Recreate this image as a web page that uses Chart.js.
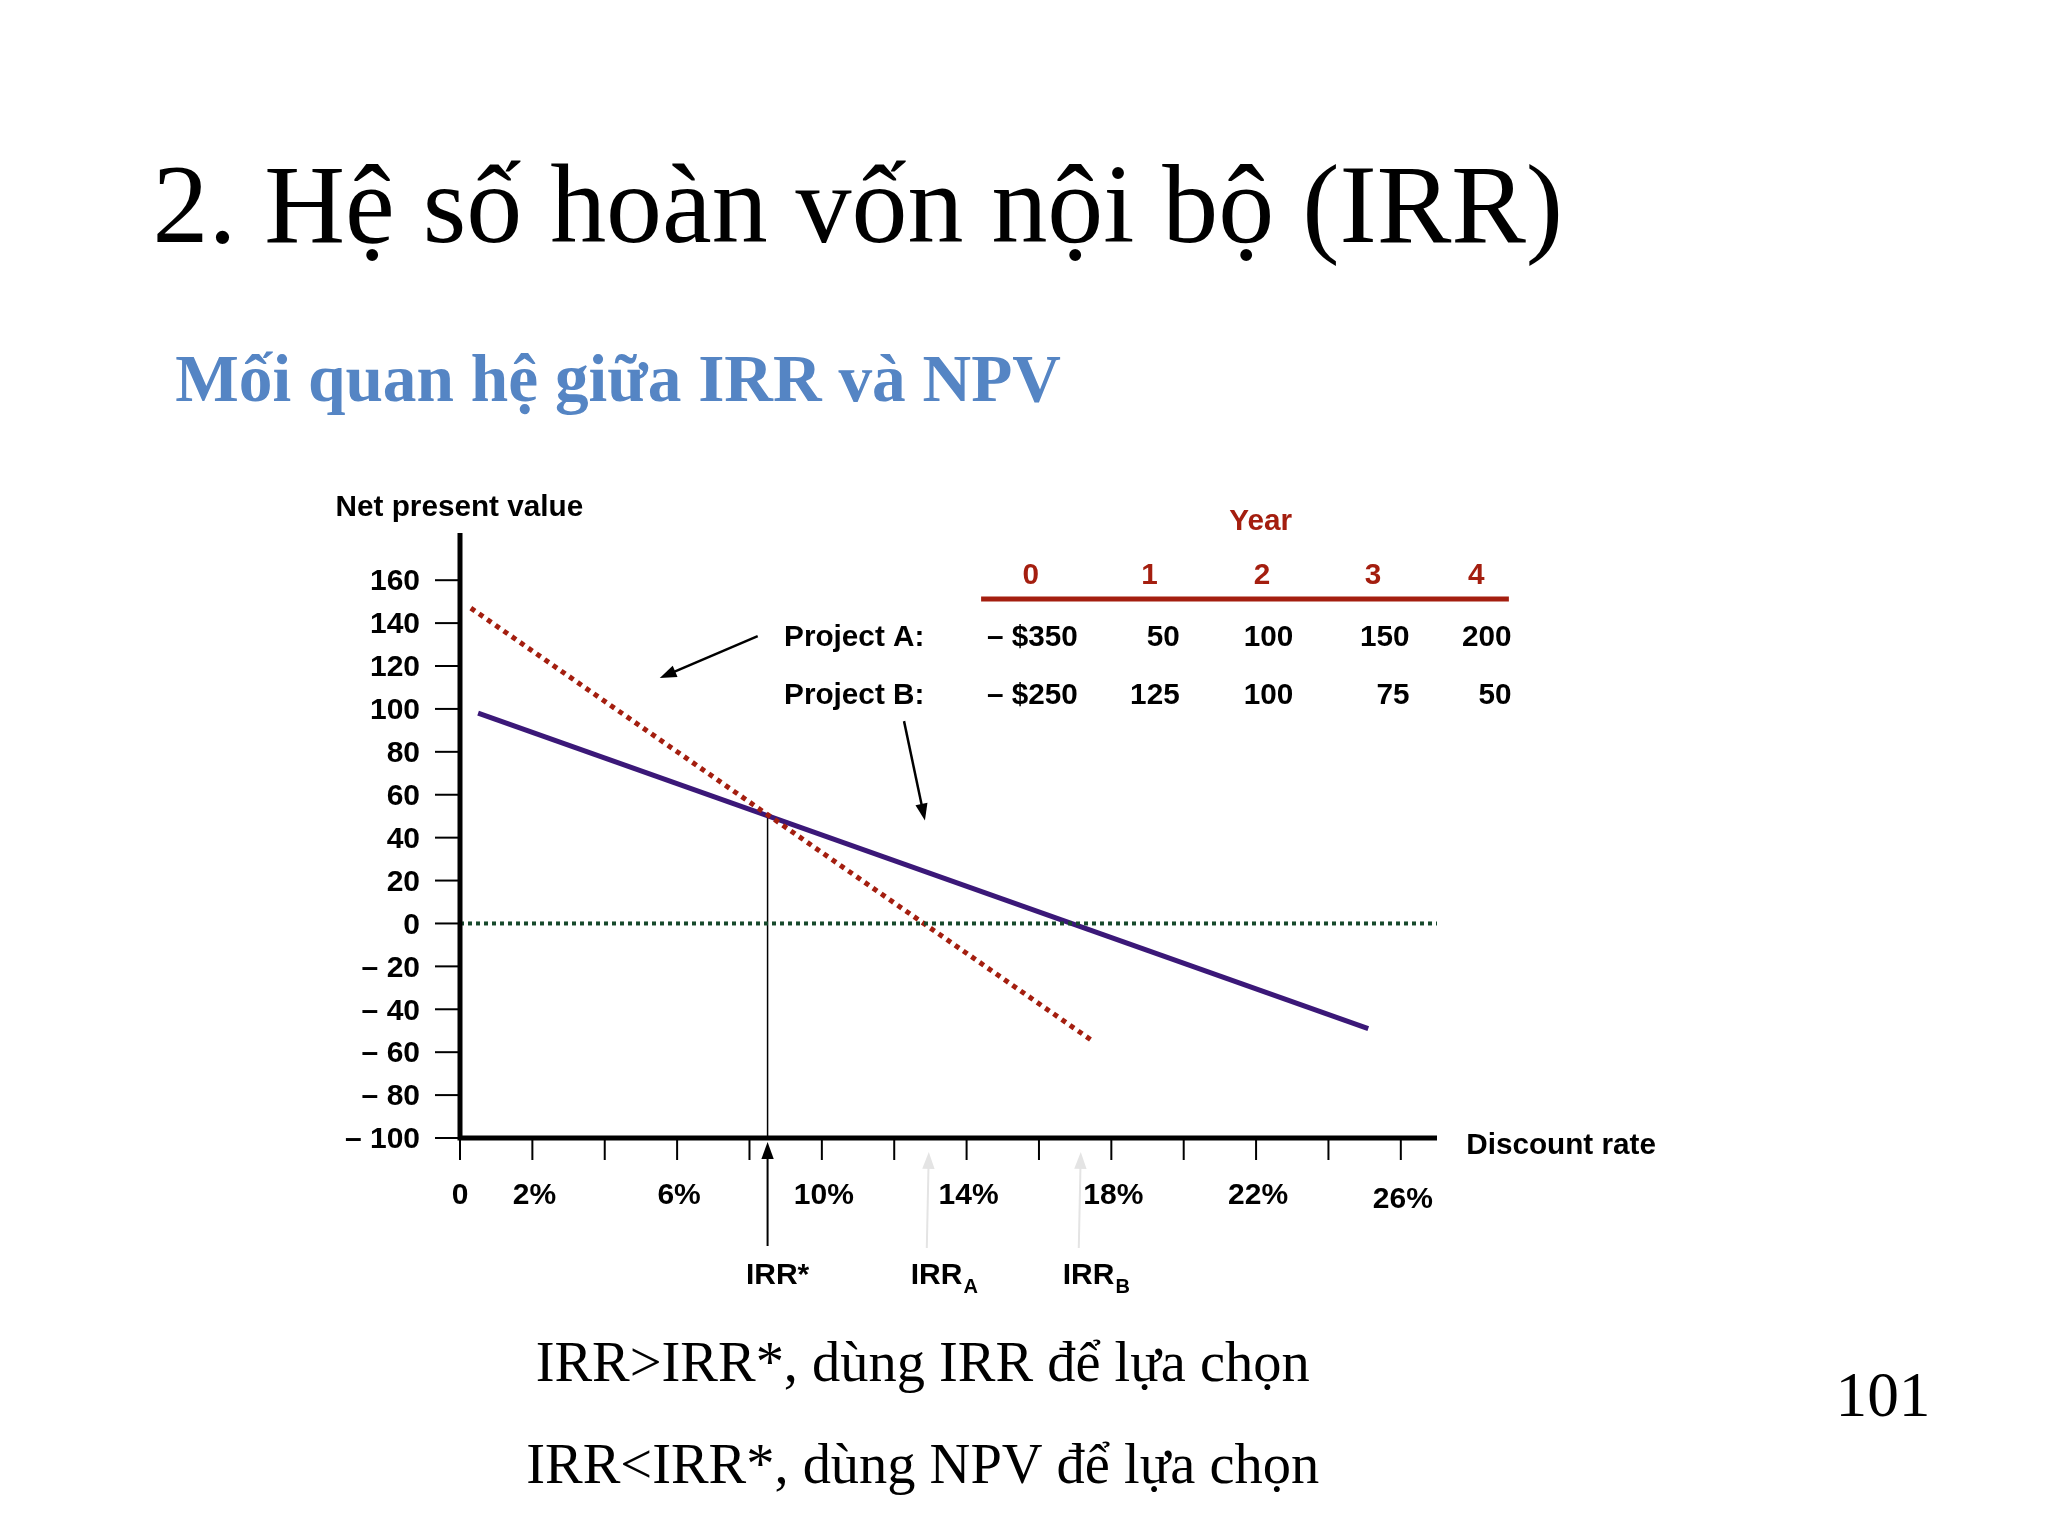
<!DOCTYPE html>
<html>
<head>
<meta charset="utf-8">
<script src="https://cdn.jsdelivr.net/npm/chart.js@4"></script>
<style>
  html, body { margin: 0; padding: 0; background: #fff; }
  canvas { display: block; }
</style>
</head>
<body>
<canvas id="c" width="2048" height="1536"></canvas>
<script>
// discount rate (%) -> NPV
const projectA = [{ x: 0.3, y: 147 }, { x: 17.5, y: -55 }];
const projectB = [{ x: 0.5, y: 98 }, { x: 25.1, y: -49 }];
const zeroLine = [{ x: 0, y: 0 }, { x: 27, y: 0 }];
const yTicks = [160, 140, 120, 100, 80, 60, 40, 20, 0, -20, -40, -60, -80, -100];
const xTickMarks = [0, 2, 4, 6, 8, 10, 12, 14, 16, 18, 20, 22, 24, 26];
const xTickLabels = [[0, '0'], [2, '2%'], [6, '6%'], [10, '10%'], [14, '14%'], [18, '18%'], [22, '22%'], [26, '26%']];
const years = ['0', '1', '2', '3', '4'];
const cashA = ['– $350', '50', '100', '150', '200'];
const cashB = ['– $250', '125', '100', '75', '50'];
const irrStar = { x: 8.5, y: 51 };
const irrA = 12.9;
const irrB = 17.1;

const RED = '#a41e0f';
const S = 2048 / 1552;
const K = 0.99;
const sans = 'bold 30px "Liberation Sans", Arial, sans-serif';

function arrow(ctx, x1, y1, x2, y2, color, w) {
    const a = Math.atan2(y2 - y1, x2 - x1), h = 18;
    ctx.strokeStyle = color; ctx.fillStyle = color; ctx.lineWidth = w;
    ctx.beginPath(); ctx.moveTo(x1, y1); ctx.lineTo(x2 - Math.cos(a) * h * 0.8, y2 - Math.sin(a) * h * 0.8); ctx.stroke();
    ctx.beginPath();
    ctx.moveTo(x2, y2);
    ctx.lineTo(x2 - h * Math.cos(a - 0.35), y2 - h * Math.sin(a - 0.35));
    ctx.lineTo(x2 - h * Math.cos(a + 0.35), y2 - h * Math.sin(a + 0.35));
    ctx.closePath(); ctx.fill();
}

const decorations = {
    id: 'decorations',
    beforeDatasetsDraw(chart) {
        const { ctx, scales: { x, y } } = chart;
        ctx.save();
        // IRR* vertical line
        ctx.strokeStyle = '#000'; ctx.lineWidth = 1.5;
        ctx.beginPath();
        ctx.moveTo(x.getPixelForValue(irrStar.x), y.getPixelForValue(irrStar.y));
        ctx.lineTo(x.getPixelForValue(irrStar.x), y.getPixelForValue(-100));
        ctx.stroke();
        ctx.restore();
    },
    afterDraw(chart) {
        const { ctx, scales: { x, y } } = chart;
        const x0 = x.getPixelForValue(0), y0 = y.getPixelForValue(-100);
        ctx.save();
        // axes
        ctx.strokeStyle = '#000'; ctx.lineWidth = 5;
        ctx.beginPath(); ctx.moveTo(x0, chart.chartArea.top); ctx.lineTo(x0, y0); ctx.lineTo(x.getPixelForValue(27), y0); ctx.stroke();
        ctx.lineWidth = 2;
        ctx.font = sans; ctx.fillStyle = '#000';
        ctx.textAlign = 'right'; ctx.textBaseline = 'middle';
        yTicks.forEach(v => {
            const py = y.getPixelForValue(v);
            ctx.beginPath(); ctx.moveTo(x0 - 25, py); ctx.lineTo(x0, py); ctx.stroke();
            ctx.fillText(v < 0 ? '– ' + (-v) : String(v), x0 - 40, py + 2);
        });
        xTickMarks.forEach(v => {
            const px = x.getPixelForValue(v);
            ctx.beginPath(); ctx.moveTo(px, y0); ctx.lineTo(px, y0 + 22); ctx.stroke();
        });
        ctx.textAlign = 'center'; ctx.textBaseline = 'alphabetic';
        xTickLabels.forEach(([v, t]) => {
            ctx.fillText(t, x.getPixelForValue(v) + (v === 0 ? 0 : 2), y0 + (v === 26 ? 70 : 66));
        });

        // IRR markers below the axis
        const ps = x.getPixelForValue(irrStar.x);
        arrow(ctx, ps, y0 + 108, ps, y0 + 4, '#000', 2);
        arrow(ctx, x.getPixelForValue(irrA), y0 + 110, x.getPixelForValue(irrA) + 2, y0 + 14, '#e4e4e4', 2);
        arrow(ctx, x.getPixelForValue(irrB), y0 + 110, x.getPixelForValue(irrB) + 2, y0 + 14, '#e4e4e4', 2);
        ctx.fillStyle = '#000'; ctx.font = sans;
        ctx.textAlign = 'center';
        ctx.fillText('IRR*', ps + 10, y0 + 146);
        ctx.textAlign = 'left';
        const ia = x.getPixelForValue(irrA) - 16, ib = x.getPixelForValue(irrB) - 16;
        ctx.fillText('IRR', ia, y0 + 146); ctx.fillText('IRR', ib, y0 + 146);
        const w = ctx.measureText('IRR').width;
        ctx.font = 'bold 20px "Liberation Sans", Arial, sans-serif';
        ctx.fillText('A', ia + w + 1, y0 + 155); ctx.fillText('B', ib + w + 1, y0 + 155);

        // everything not tied to the axes
        ctx.scale(K, K);
        ctx.font = sans; ctx.textAlign = 'left';
        ctx.fillText('Net present value', 339, 521);
        ctx.fillText('Discount rate', 1481, 1166);

        // cash-flow table
        ctx.fillStyle = RED; ctx.textAlign = 'center';
        ctx.fillText('Year', 965 * S, 535);
        const colC = [789, 880, 966, 1051, 1130].map(v => v * S);
        const colR = [825, 903, 990, 1079, 1157].map(v => v * S);
        years.forEach((t, i) => ctx.fillText(t, colC[i], 590));
        ctx.strokeStyle = RED; ctx.lineWidth = 5;
        ctx.beginPath(); ctx.moveTo(751 * S, 605); ctx.lineTo(1155 * S, 605); ctx.stroke();
        ctx.fillStyle = '#000';
        ctx.textAlign = 'left';
        ctx.fillText('Project A:', 792, 653); ctx.fillText('Project B:', 792, 711);
        ctx.textAlign = 'right';
        cashA.forEach((t, i) => ctx.fillText(t, colR[i], 653));
        cashB.forEach((t, i) => ctx.fillText(t, colR[i], 711));
        arrow(ctx, 580 * S, 487 * S, 505 * S, 519 * S, '#000', 2.5);
        arrow(ctx, 692 * S, 552 * S, 708 * S, 628 * S, '#000', 2.5);

        // slide text
        ctx.textAlign = 'left'; ctx.fillStyle = '#000';
        ctx.font = '113px "Liberation Serif", "Times New Roman", serif';
        ctx.fillText('2. Hệ số hoàn vốn nội bộ (IRR)', 154, 244);
        ctx.font = 'bold 68px "Liberation Serif", "Times New Roman", serif';
        ctx.fillStyle = '#5585c4';
        ctx.fillText('Mối quan hệ giữa IRR và NPV', 177, 405);
        ctx.fillStyle = '#000';
        ctx.font = '57px "Liberation Serif", "Times New Roman", serif';
        ctx.textAlign = 'center';
        ctx.fillText('IRR>IRR*, dùng IRR để lựa chọn', 932, 1395);
        ctx.fillText('IRR<IRR*, dùng NPV để lựa chọn', 932, 1498);
        ctx.font = '64px "Liberation Serif", "Times New Roman", serif';
        ctx.textAlign = 'right';
        ctx.fillText('101', 1950, 1430);
        ctx.restore();
    }
};

new Chart(document.getElementById('c'), {
    type: 'scatter',
    data: {
        datasets: [
            { label: 'Zero', data: zeroLine, showLine: true, borderColor: '#17492c', borderWidth: 4, borderDash: [4, 4], pointRadius: 0 },
            { label: 'Project A', data: projectA, showLine: true, borderColor: RED, borderWidth: 5, borderDash: [5, 5], pointRadius: 0 },
            { label: 'Project B', data: projectB, showLine: true, borderColor: '#3b1878', borderWidth: 5, pointRadius: 0 }
        ]
    },
    options: {
        responsive: false,
        animation: false,
        devicePixelRatio: 1,
        layout: { padding: { left: 460, right: 611, top: 533, bottom: 398 } },
        scales: {
            x: { type: 'linear', min: 0, max: 27, display: false },
            y: { type: 'linear', min: -100, max: 182, display: false }
        },
        plugins: { legend: { display: false }, tooltip: { enabled: false } }
    },
    plugins: [decorations]
});
</script>
</body>
</html>
